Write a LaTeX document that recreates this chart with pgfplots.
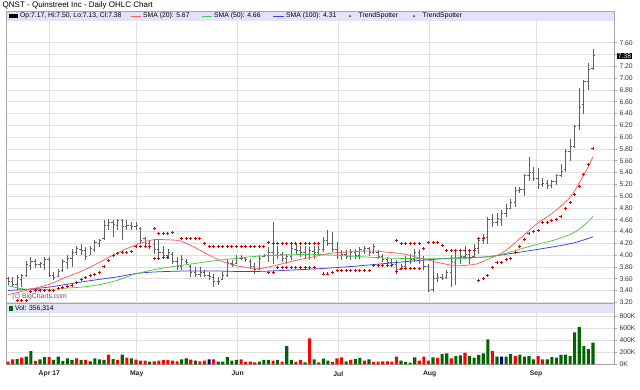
\documentclass[border=0pt]{standalone}
\usepackage{fontspec}
\setmainfont{Liberation Sans}
\usepackage{pgfplots}
\usepackage{pgfplotstable}
\pgfplotsset{compat=1.18}
\definecolor{band}{RGB}{226,226,248}
\definecolor{framec}{RGB}{165,165,165}
\definecolor{gridc}{RGB}{224,224,224}
\definecolor{barc}{RGB}{95,95,95}
\definecolor{volg}{RGB}{0,100,0}
\definecolor{volr}{RGB}{255,0,0}
\definecolor{voln}{RGB}{0,0,128}
\definecolor{smar}{RGB}{255,90,90}
\definecolor{smag}{RGB}{70,205,70}
\definecolor{smab}{RGB}{60,60,235}
\definecolor{tsr}{RGB}{215,0,0}
\newcommand\lgf{\fontsize{6.8}{8}\selectfont}
\pgfdeclareplotmark{ctick}{\pgfpathmoveto{\pgfpointorigin}\pgfpathlineto{\pgfpoint{1.7pt}{0pt}}\pgfusepathqstroke}
\pgfdeclareplotmark{otick}{\pgfpathmoveto{\pgfpointorigin}\pgfpathlineto{\pgfpoint{-1.7pt}{0pt}}\pgfusepathqstroke}

\pgfplotstableread{
i O H L C
0 3.60 3.63 3.50 3.55
1 3.55 3.63 3.46 3.50
2 3.50 3.66 3.40 3.62
3 3.58 3.68 3.46 3.65
4 3.66 3.90 3.63 3.85
5 3.82 3.97 3.74 3.90
6 3.90 3.94 3.78 3.85
7 3.84 3.88 3.78 3.86
8 3.85 3.97 3.74 3.93
9 3.93 3.97 3.63 3.66
10 3.66 3.71 3.58 3.62
11 3.64 3.77 3.63 3.72
12 3.74 3.94 3.71 3.90
13 3.88 4.00 3.77 3.95
14 3.95 4.10 3.80 4.05
15 4.05 4.16 4.00 4.12
16 4.10 4.19 4.00 4.08
17 4.08 4.13 3.91 3.98
18 4.00 4.16 4.00 4.12
19 4.10 4.25 4.05 4.22
20 4.20 4.28 4.13 4.25
21 4.28 4.59 4.25 4.50
22 4.50 4.62 4.42 4.55
23 4.55 4.59 4.31 4.52
24 4.50 4.62 4.42 4.58
25 4.58 4.62 4.25 4.48
26 4.48 4.59 4.42 4.50
27 4.50 4.56 4.42 4.48
28 4.48 4.56 4.42 4.50
29 4.45 4.48 4.19 4.25
30 4.28 4.31 4.13 4.20
31 4.20 4.25 4.10 4.15
32 4.18 4.28 4.02 4.10
33 4.10 4.25 3.97 4.05
34 4.05 4.15 3.94 4.00
35 4.00 4.10 3.94 4.05
36 4.02 4.05 3.85 3.90
37 3.90 3.97 3.74 3.80
38 3.80 4.00 3.74 3.92
39 3.90 3.94 3.85 3.88
40 3.80 3.83 3.63 3.70
41 3.70 3.80 3.63 3.68
42 3.68 3.80 3.63 3.70
43 3.70 3.74 3.63 3.66
44 3.66 3.71 3.57 3.64
45 3.62 3.68 3.46 3.55
46 3.55 3.63 3.49 3.56
47 3.58 3.71 3.57 3.66
48 3.66 3.94 3.63 3.88
49 3.86 3.91 3.80 3.85
50 3.86 4.00 3.85 3.95
51 3.95 4.00 3.91 3.94
52 3.94 3.97 3.88 3.92
53 3.90 3.94 3.77 3.80
54 3.80 3.86 3.68 3.76
55 3.76 4.00 3.74 3.95
56 3.98 4.02 3.97 4.00
57 4.00 4.14 3.88 4.05
58 4.05 4.56 3.85 4.00
59 4.00 4.16 3.94 4.05
60 4.02 4.05 3.88 3.95
61 3.95 4.02 3.85 3.98
62 3.98 4.19 3.91 4.12
63 4.10 4.19 4.02 4.08
64 4.08 4.16 3.97 4.05
65 4.05 4.16 3.94 4.02
66 4.02 4.14 3.91 4.08
67 4.06 4.16 3.94 4.05
68 4.05 4.16 4.00 4.10
69 4.10 4.31 4.05 4.25
70 4.25 4.42 4.16 4.20
71 4.20 4.39 4.05 4.10
72 4.10 4.22 3.94 4.00
73 4.00 4.08 3.91 4.02
74 4.02 4.08 3.94 3.98
75 3.98 4.11 3.91 4.05
76 4.05 4.11 3.94 4.00
77 4.00 4.14 3.94 4.10
78 4.08 4.16 4.02 4.12
79 4.12 4.14 3.99 4.05
80 4.05 4.19 4.02 4.15
81 4.05 4.08 3.94 3.98
82 3.98 4.02 3.88 3.92
83 3.92 3.97 3.85 3.88
84 3.88 3.94 3.82 3.85
85 3.85 3.91 3.68 3.75
86 3.76 3.85 3.74 3.80
87 3.80 3.99 3.80 3.95
88 3.95 4.02 3.85 3.92
89 3.92 4.11 3.88 4.05
90 4.05 4.08 3.85 3.95
91 3.95 3.99 3.74 3.80
92 3.80 3.85 3.37 3.40
93 3.42 3.94 3.37 3.60
94 3.60 3.70 3.55 3.62
95 3.62 3.68 3.57 3.60
96 3.62 3.74 3.60 3.70
97 3.70 4.00 3.46 3.90
98 3.88 4.08 3.50 3.95
99 3.95 4.08 3.85 3.98
100 3.98 4.16 3.94 4.02
101 4.02 4.08 3.85 3.95
102 3.98 4.19 3.97 4.12
103 4.12 4.28 4.02 4.25
104 4.25 4.36 4.19 4.30
105 4.30 4.64 4.19 4.60
106 4.60 4.70 4.48 4.55
107 4.55 4.72 4.50 4.62
108 4.60 4.76 4.50 4.70
109 4.70 4.87 4.64 4.80
110 4.80 4.95 4.78 4.90
111 4.90 5.15 4.81 5.10
112 5.10 5.15 5.05 5.12
113 5.12 5.38 5.00 5.35
114 5.35 5.67 5.25 5.40
115 5.40 5.50 5.25 5.30
116 5.30 5.47 5.12 5.20
117 5.20 5.30 5.15 5.22
118 5.22 5.27 5.12 5.18
119 5.18 5.28 5.14 5.25
120 5.25 5.38 5.18 5.35
121 5.35 5.55 5.32 5.42
122 5.45 5.80 5.41 5.75
123 5.75 5.96 5.60 5.85
124 5.85 6.20 5.82 6.18
125 6.20 6.83 6.12 6.50
126 6.55 6.97 6.40 6.95
127 6.95 7.25 6.80 7.15
128 7.17 7.50 7.13 7.38
}\ohlc

\begin{document}
\begin{tikzpicture}[x=1pt,y=1pt]
\useasboundingbox (0,0) rectangle (640,389);
\fill[white] (0,0) rectangle (640,389);

% ---------- price panel ----------
\begin{axis}[
  at={(6.7pt,86pt)}, anchor=south west, scale only axis,
  width=608pt, height=292pt,
  xmin=-0.284, xmax=132.76, ymin=3.188, ymax=8.138,
  clip mode=individual,
  xtick={9.04,28.16,50.26,72.28,92.27,115.54}, xticklabels={},
  xtick style={draw=none},
  ytick={3.2,3.4,3.6,3.8,4.0,4.2,4.4,4.6,4.8,5.0,5.2,5.4,5.6,5.8,6.0,6.2,6.4,6.6,6.8,7.0,7.2,7.4,7.6},
  yticklabels={3.20,3.40,3.60,3.80,4.00,4.20,4.40,4.60,4.80,5.00,5.20,5.40,5.60,5.80,6.00,6.20,6.40,6.60,6.80,7.00,7.20,{},7.60},
  yticklabel pos=right, ytick pos=right, tick align=outside,
  major tick length=2.5pt,
  ytick style={framec, line width=0.6pt},
  yticklabel style={font=\lgf, text=black!80, xshift=-1.2pt},
  grid=major, grid style={gridc, line width=0.7pt},
  axis line style={framec, line width=0.8pt},
]
% OHLC bars
\addplot[barc, only marks, mark=ctick, mark options={barc, line width=0.8pt},
  error bars/.cd, y dir=both, y explicit, error mark=none,
  error bar style={barc, line width=0.8pt}]
  table[x=i, y=C, y error plus expr=\thisrow{H}-\thisrow{C}, y error minus expr=\thisrow{C}-\thisrow{L}] {\ohlc};
\addplot[barc, only marks, mark=otick, mark options={barc, line width=0.8pt}]
  table[x=i, y=O] {\ohlc};
% SMA 100
\addplot[smab, line width=0.75pt, smooth, tension=0.5] coordinates {
(0,3.40)(4,3.42)(9.2,3.46)(16.5,3.55)(23.8,3.63)(27.4,3.68)(31.1,3.71)(38.4,3.73)(45.7,3.73)(53,3.72)(60.2,3.74)(68.1,3.77)(75.6,3.81)(82.9,3.86)(90.1,3.91)(97.5,3.95)(104.7,3.97)(112,4.05)(119.3,4.14)(124,4.21)(128,4.31)};
% SMA 50
\addplot[smag, line width=0.75pt, smooth, tension=0.5] coordinates {
(0,3.48)(4,3.42)(9.2,3.42)(12.8,3.44)(16.5,3.46)(20.1,3.50)(23.8,3.57)(27.4,3.67)(31.1,3.74)(34.7,3.79)(38.4,3.83)(42,3.87)(45.7,3.91)(49.3,3.94)(52.9,3.97)(56.6,3.99)(63.9,4.01)(68.1,4.01)(75.6,3.98)(82.9,3.95)(90.1,3.94)(97.5,3.94)(104.7,3.97)(108.4,4.02)(112,4.10)(115.7,4.18)(119.3,4.25)(123,4.35)(125,4.44)(127,4.57)(128,4.66)};
% SMA 20
\addplot[smar, line width=0.75pt, smooth, tension=0.5] coordinates {
(0,3.33)(5.5,3.43)(9.2,3.51)(12.8,3.63)(16.5,3.74)(20.1,3.88)(23,4.00)(26,4.11)(28.9,4.20)(31.8,4.26)(34.7,4.26)(37.6,4.24)(40.6,4.14)(43.5,4.02)(46.4,3.91)(49.3,3.83)(53,3.78)(55.1,3.77)(58.8,3.83)(62.4,3.90)(66.1,3.96)(70.5,4.03)(74,4.05)(79.2,4.07)(82.9,4.05)(86.5,4.02)(90.1,3.95)(93.8,3.88)(97,3.83)(99,3.82)(102.6,3.85)(104.7,3.92)(108.4,4.05)(112,4.28)(115.7,4.53)(119.3,4.72)(123,4.98)(125.2,5.25)(127,5.50)(128,5.67)};
% TrendSpotter
\addplot[only marks, mark=+, mark size=1.5pt, mark options={tsr, line width=0.9pt}] coordinates {
(1,3.17)(2,3.23)(3,3.23)(4,3.23)(5,3.39)(6,3.40)(7,3.40)(8,3.40)(9,3.40)(10,3.40)(11,3.43)(12,3.45)(13,3.47)(14,3.49)(15,3.54)(16,3.59)(17,3.62)(18,3.66)(19,3.67)(20,3.71)(21,3.81)(22,3.91)(23,4.00)(24,4.02)(25,4.04)(26,4.04)(27,4.06)(28,4.14)(29,4.14)(30,4.14)(31,4.14)(32,3.94)(33,3.94)(34,3.96)(35,3.96)
(32,4.45)(33,4.36)(34,4.36)(35,4.36)(36,4.38)(38,4.28)(39,4.28)(40,4.28)(41,4.28)(42,4.28)(43,4.19)
(44,4.15)(45,4.15)(46,4.15)(47,4.15)(48,4.15)(49,4.15)(50,4.15)(51,4.15)(52,4.15)(53,4.15)(54,4.15)(55,4.15)(56,4.15)
(57,4.22)(58,4.20)(59,4.20)(60,4.20)(61,4.20)(62,4.20)(63,4.20)(64,4.20)(65,4.20)(66,4.20)(67,4.20)(68,4.20)
(57,3.71)(58,3.71)(59,3.79)(60,3.79)(61,3.79)(62,3.79)(63,3.79)(64,3.79)(65,3.79)(66,3.79)(67,3.79)
(69,3.68)(70,3.68)(71,3.70)(72,3.74)(73,3.74)(74,3.74)(75,3.74)(76,3.74)(77,3.74)(78,3.74)(79,3.74)
(80,3.83)(81,3.83)(82,3.83)(83,3.83)(84,3.83)(85,3.72)(86,3.77)(87,3.77)(88,3.77)(89,3.77)(90,3.77)
(85,4.25)(86,4.19)(87,4.19)(88,4.19)(89,4.19)(90,4.19)(91,4.12)(92,4.21)(93,4.21)(94,4.21)(95,4.16)
(96,4.08)(97,4.08)(98,4.08)(99,4.08)(100,4.08)(101,4.08)(102,4.08)(103,4.28)(104,4.28)
(103,3.57)(104,3.60)(105,3.65)(106,3.79)(107,3.87)(108,3.87)(109,3.92)(110,3.95)(111,4.05)(112,4.14)(113,4.27)(114,4.36)(115,4.40)(116,4.42)(117,4.55)(118,4.56)(119,4.58)(120,4.60)(121,4.66)(122,4.79)(123,4.89)(124,5.02)(125,5.17)(126,5.37)(127,5.53)(128,5.80)};
\node[fill=black, text=white, inner sep=0.7pt, anchor=west, font=\lgf] at (axis cs:132.76,7.38) [xshift=2.2pt] {7.38};
\node[anchor=west, font=\lgf, text=black!65, inner sep=0pt] at (axis cs:0.9,3.30) {(c) BigCharts.com};
\end{axis}

% ---------- volume panel ----------
\begin{axis}[
  at={(6.7pt,24.7pt)}, anchor=south west, scale only axis,
  width=608pt, height=60.3pt,
  xmin=-0.284, xmax=132.76, ymin=0, ymax=1004,
  xtick={9.04,28.16,50.26,72.28,92.27,115.54},
  xticklabels={Apr 17,May,Jun,Jul,Aug,Sep},
  xtick style={draw=none},
  xticklabel style={font=\lgf\bfseries, text=black!85, yshift=-0.8pt},
  ytick={0,200,400,600,800},
  yticklabels={0K,200K,400K,600K,800K},
  yticklabel pos=right, ytick pos=right, tick align=outside,
  major tick length=2.5pt,
  ytick style={framec, line width=0.6pt},
  yticklabel style={font=\lgf, text=black!80, xshift=-1.2pt},
  grid=major, grid style={gridc, line width=0.7pt},
  axis line style={framec, line width=0.8pt},
]
\addplot[ybar, bar width=3.1pt, bar shift=0pt, fill=volr, draw=none] coordinates {
(0,44)(1,83)(3,110)(6,55)(9,121)(15,99)(17,72)(22,160)(24,72)(26,110)(28,77)(29,61)(30,61)(32,50)(33,61)(34,72)(35,72)(36,61)(37,50)(40,77)(42,50)(43,61)(45,83)(51,83)(52,39)(53,44)(54,33)(58,61)(60,44)(63,39)(64,72)(66,430)(68,33)(71,39)(72,99)(73,116)(75,72)(78,61)(80,39)(81,44)(82,50)(83,50)(84,44)(85,127)(90,61)(91,127)(92,61)(94,105)(97,99)(100,193)(106,221)(111,138)(116,138)(117,83)};
\addplot[ybar, bar width=3.1pt, bar shift=0pt, fill=volg, draw=none] coordinates {
(2,88)(4,127)(5,221)(7,83)(8,121)(10,72)(11,127)(12,55)(13,99)(14,72)(16,72)(18,50)(19,99)(20,83)(21,72)(23,88)(25,160)(27,99)(31,44)(38,83)(39,99)(41,61)(46,44)(47,44)(48,121)(49,61)(50,72)(55,44)(56,72)(57,72)(59,72)(61,304)(62,72)(65,33)(67,83)(69,94)(70,61)(74,50)(76,88)(77,105)(79,83)(86,61)(87,39)(88,28)(89,116)(93,116)(95,171)(96,182)(98,138)(99,149)(101,138)(102,110)(103,155)(104,182)(105,414)(107,127)(109,127)(110,171)(112,160)(113,127)(114,138)(115,83)(118,83)(119,121)(120,110)(121,155)(122,160)(123,138)(124,530)(125,624)(126,304)(127,254)(128,359)};
\addplot[ybar, bar width=3.1pt, bar shift=0pt, fill=voln, draw=none] coordinates {
(44,83)(108,127)};
\end{axis}

% ---------- legend bands ----------
\fill[band] (7.1,368) rectangle (614.3,377.6);
\fill[band] (7.1,76) rectangle (614.3,85);
\draw[framec, line width=0.8pt] (6.7,378) -- (614.7,378);
\draw[framec, line width=0.8pt] (6.7,85.4) -- (614.7,85.4);

% title
\node[anchor=west, inner sep=0pt, font=\fontsize{8}{9}\selectfont] at (2.5,384) {QNST - Quinstreet Inc - Daily OHLC Chart};

% price legend
\fill[black] (8.5,370.6) rectangle (18,375);
\node[anchor=west, inner sep=0pt, font=\lgf] at (20,372.8) {Op:7.17, Hi:7.50, Lo:7.13, Cl:7.38};
\draw[smar, line width=0.75pt] (131,372.8) -- (141,372.8);
\node[anchor=west, inner sep=0pt, font=\lgf] at (143,372.8) {SMA (20): 5.67};
\draw[smag, line width=0.75pt] (202,372.8) -- (212,372.8);
\node[anchor=west, inner sep=0pt, font=\lgf] at (214,372.8) {SMA (50): 4.66};
\draw[smab, line width=0.75pt] (273,372.8) -- (284,372.8);
\node[anchor=west, inner sep=0pt, font=\lgf] at (286,372.8) {SMA (100): 4.31};
\fill[tsr] (350,372.8) circle (1pt);
\node[anchor=west, inner sep=0pt, font=\lgf] at (358.5,372.8) {TrendSpotter};
\fill[tsr!80!black] (414,372.8) circle (1pt);
\node[anchor=west, inner sep=0pt, font=\lgf] at (422.5,372.8) {TrendSpotter};

% volume legend
\fill[volg] (9,78.3) rectangle (13,82.6);
\node[anchor=west, inner sep=0pt, font=\lgf] at (15,80.5) {Vol: 356,314};
\end{tikzpicture}
\end{document}
